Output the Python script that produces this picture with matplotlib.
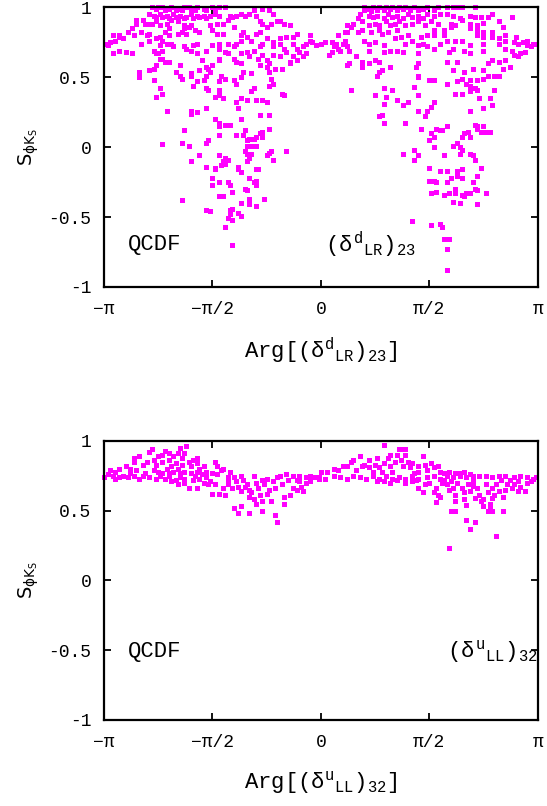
import matplotlib
matplotlib.use('Agg')
import matplotlib.pyplot as plt
import numpy as np

# upper panel, (delta^d_LR)_23 : points with Arg < 0
top_left = [
	(-0.995,0.74),(-0.97,0.75),(-0.95,0.76),(-0.93,0.79),(-0.96,0.80),(-0.93,0.80),(-0.91,0.78),(-0.98,0.73),
	(-0.96,0.67),(-0.93,0.69),(-0.90,0.68),(-0.87,0.67),(-0.89,0.82),(-0.87,0.85),(-0.86,0.80),(-0.85,0.88),
	(-0.83,0.82),(-0.81,0.88),(-0.83,0.74),(-0.80,0.80),(-0.79,0.76),(-0.84,0.54),(-0.84,0.50),(-0.79,0.55),
	(-0.77,0.56),(-0.77,0.48),(-0.74,0.42),(-0.73,0.38),(-0.76,0.36),(-0.71,0.26),(-0.73,0.02),(-0.63,0.12),
	(-0.64,0.03),(-0.61,0.01),(-0.60,0.26),(-0.60,0.24),(-0.57,0.25),(-0.53,0.28),(-0.52,0.05),(-0.53,0.03),
	(-0.75,0.67),(-0.73,0.69),(-0.72,0.61),(-0.70,0.61),(-0.73,0.63),(-0.76,0.59),(-0.67,0.54),(-0.65,0.59),
	(-0.64,0.49),(-0.65,0.51),(-0.60,0.53),(-0.60,0.51),(-0.57,0.47),(-0.59,0.44),(-0.56,0.55),(-0.53,0.57),
	(-0.53,0.51),(-0.51,0.54),(-0.54,0.48),(-0.53,0.42),(-0.52,0.41),(-0.49,0.36),(-0.47,0.37),(-0.45,0.35),
	(-0.47,0.41),(-0.47,0.47),(-0.46,0.51),(-0.44,0.49),(-0.40,0.48),(-0.39,0.45),(-0.37,0.50),(-0.36,0.54),
	(-0.32,0.53),(-0.31,0.42),(-0.32,0.40),(-0.37,0.35),(-0.39,0.32),(-0.38,0.28),(-0.34,0.34),(-0.30,0.34),
	(-0.27,0.34),(-0.25,0.32),(-0.28,0.23),(-0.24,0.23),(-0.18,0.38),(-0.17,0.37),(-0.23,0.49),(-0.22,0.45),
	(-0.24,0.44),(-0.24,0.54),(-0.25,0.57),(-0.24,0.60),(-0.27,0.66),(-0.25,0.62),(-0.22,0.66),(-0.19,0.65),
	(-0.18,0.56),(-0.21,0.56),(-0.28,0.59),(-0.29,0.63),(-0.33,0.65),(-0.37,0.60),(-0.39,0.61),(-0.40,0.63),
	(-0.47,0.62),(-0.47,0.63),(-0.50,0.59),(-0.52,0.56),(-0.55,0.62),(-0.57,0.67),(-0.60,0.69),(-0.62,0.70),
	(-0.63,0.72),(-0.59,0.73),(-0.57,0.74),(-0.53,0.69),(-0.50,0.73),(-0.47,0.70),(-0.47,0.74),(-0.43,0.74),
	(-0.45,0.81),(-0.48,0.81),(-0.50,0.84),(-0.51,0.87),(-0.48,0.88),(-0.45,0.88),(-0.43,0.91),(-0.40,0.86),
	(-0.41,0.93),(-0.39,0.94),(-0.37,0.95),(-0.35,0.94),(-0.33,0.95),(-0.31,0.98),(-0.30,0.94),(-0.27,0.99),
	(-0.24,0.98),(-0.22,0.95),(-0.28,0.90),(-0.27,0.88),(-0.25,0.86),(-0.23,0.88),(-0.20,0.90),(-0.19,0.90),
	(-0.17,0.88),(-0.14,0.87),(-0.11,0.81),(-0.13,0.79),(-0.16,0.79),(-0.19,0.78),(-0.22,0.75),(-0.25,0.78),
	(-0.27,0.74),(-0.30,0.81),(-0.28,0.82),(-0.32,0.76),(-0.34,0.79),(-0.37,0.76),(-0.37,0.80),(-0.36,0.82),
	(-0.39,0.74),(-0.40,0.72),(-0.43,0.67),(-0.44,0.68),(-0.37,0.67),(-0.34,0.68),(-0.31,0.69),(-0.28,0.72),
	(-0.22,0.72),(-0.19,0.74),(-0.17,0.70),(-0.16,0.68),(-0.13,0.74),(-0.11,0.70),(-0.08,0.72),(-0.07,0.74),
	(-0.05,0.76),(-0.04,0.75),(-0.02,0.73),(-0.05,0.80),(-0.10,0.68),(-0.13,0.65),(-0.14,0.61),(-0.11,0.62),
	(-0.08,0.65),(-0.07,0.67),(-0.14,0.60),
	(-0.49,0.20),(-0.47,0.17),(-0.47,0.15),(-0.44,0.16),(-0.42,0.16),(-0.37,0.20),(-0.35,0.12),(-0.36,0.09),
	(-0.39,0.09),(-0.34,0.05),(-0.33,0.06),(-0.31,0.06),(-0.30,0.07),(-0.28,0.10),(-0.27,0.11),(-0.27,0.07),
	(-0.24,0.13),(-0.34,0.01),(-0.32,0.01),(-0.30,0.01),(-0.47,0.09),
	(-0.78,1.00),(-0.76,0.99),(-0.75,1.00),(-0.73,1.00),(-0.72,0.98),(-0.70,0.99),(-0.69,1.00),(-0.67,0.98),
	(-0.66,0.99),(-0.64,0.98),(-0.63,1.00),(-0.61,1.00),(-0.60,0.99),(-0.58,0.98),(-0.57,1.00),(-0.54,0.99),
	(-0.53,0.98),(-0.50,1.00),(-0.49,0.99),(-0.47,1.00),(-0.44,1.00),(-0.42,0.94),(-0.79,0.95),(-0.77,0.94),
	(-0.76,0.93),(-0.74,0.95),(-0.73,0.93),(-0.71,0.94),(-0.70,0.92),(-0.68,0.95),(-0.67,0.93),(-0.65,0.94),
	(-0.63,0.92),(-0.62,0.93),(-0.60,0.95),(-0.59,0.92),(-0.57,0.94),(-0.56,0.93),(-0.54,0.94),(-0.53,0.92),
	(-0.51,0.94),(-0.49,0.95),(-0.47,0.94),(-0.82,0.91),(-0.85,0.91),(-0.80,0.88),(-0.78,0.88),(-0.76,0.90),
	(-0.74,0.87),(-0.71,0.88),(-0.69,0.91),(-0.66,0.90),(-0.63,0.87),(-0.63,0.85),(-0.61,0.86),(-0.60,0.87),
	(-0.58,0.84),(-0.56,0.82),(-0.64,0.82),(-0.66,0.81),(-0.62,0.81),(-0.70,0.85),(-0.72,0.82),(-0.74,0.79),
	(-0.76,0.78),(-0.79,0.81),(-0.70,0.80),(-0.73,0.76),(-0.74,0.73),(-0.77,0.69),(-0.68,0.72),(-0.71,0.74),
	(-0.69,0.74),(-0.76,0.67),(-0.74,0.63),
	(-0.56,-0.06),(-0.47,-0.06),(-0.60,-0.10),(-0.53,-0.14),(-0.49,-0.15),(-0.49,-0.16),(-0.46,-0.13),(-0.44,-0.08),
	(-0.43,-0.09),(-0.45,-0.10),(-0.44,-0.12),(-0.38,-0.14),(-0.38,-0.16),(-0.37,-0.18),(-0.35,-0.03),(-0.34,-0.05),
	(-0.32,-0.05),(-0.33,-0.08),(-0.34,-0.10),(-0.30,-0.16),(-0.29,-0.16),(-0.25,-0.06),(-0.24,-0.04),(-0.23,-0.03),
	(-0.22,-0.09),(-0.16,-0.03),(-0.50,-0.22),(-0.50,-0.27),(-0.47,-0.25),(-0.43,-0.25),(-0.42,-0.27),(-0.41,-0.32),
	(-0.35,-0.30),(-0.34,-0.31),(-0.33,-0.22),(-0.31,-0.25),(-0.30,-0.24),(-0.30,-0.27),(-0.33,-0.37),(-0.33,-0.41),
	(-0.30,-0.42),(-0.26,-0.37),(-0.37,-0.40),(-0.47,-0.35),(-0.46,-0.35),(-0.45,-0.35),(-0.64,-0.38),(-0.53,-0.45),
	(-0.51,-0.46),(-0.42,-0.45),(-0.41,-0.44),(-0.42,-0.48),(-0.38,-0.47),(-0.37,-0.49),(-0.43,-0.51),(-0.41,-0.52),
	(-0.44,-0.57),(-0.41,-0.70),
]

# upper panel : points with Arg > 0
top_right = [
	(0.00,0.74),(0.02,0.75),(0.05,0.75),(0.07,0.74),(0.06,0.72),(0.05,0.68),(0.04,0.66),(0.08,0.70),
	(0.09,0.69),(0.10,0.74),(0.11,0.76),(0.12,0.72),(0.13,0.69),(0.08,0.80),(0.11,0.82),(0.12,0.82),
	(0.12,0.87),(0.14,0.86),(0.15,0.88),(0.17,0.92),(0.18,0.95),(0.20,0.98),(0.20,1.00),(0.22,0.99),
	(0.23,0.97),(0.24,1.00),(0.26,0.98),(0.27,1.00),(0.29,0.98),(0.30,1.00),(0.32,0.99),(0.33,1.00),
	(0.35,0.98),(0.36,1.00),(0.38,0.99),(0.39,1.00),(0.41,0.98),(0.43,1.00),(0.45,0.98),(0.47,0.99),
	(0.49,1.00),(0.52,0.98),(0.54,1.00),(0.58,1.00),(0.61,1.00),(0.63,1.00),(0.65,1.00),(0.71,1.00),
	(0.22,0.94),(0.24,0.93),(0.26,0.94),(0.29,0.92),(0.31,0.95),(0.33,0.93),(0.35,0.94),(0.38,0.92),
	(0.40,0.95),(0.42,0.93),(0.45,0.94),(0.47,0.92),(0.49,0.95),(0.52,0.94),(0.55,0.95),(0.58,0.95),
	(0.61,0.94),(0.64,0.92),(0.69,0.94),(0.71,0.93),(0.74,0.93),(0.77,0.93),(0.79,0.95),(0.88,0.93),
	(0.19,0.90),(0.22,0.87),(0.25,0.88),(0.27,0.87),(0.30,0.90),(0.32,0.87),(0.34,0.88),(0.36,0.90),
	(0.39,0.87),(0.42,0.88),(0.45,0.90),(0.48,0.87),(0.51,0.90),(0.54,0.88),(0.60,0.88),(0.65,0.91),
	(0.69,0.88),(0.72,0.87),(0.75,0.89),(0.82,0.90),(0.84,0.86),
	(0.17,0.82),(0.19,0.84),(0.23,0.82),(0.27,0.84),(0.28,0.81),(0.31,0.82),(0.35,0.84),(0.37,0.79),
	(0.40,0.80),(0.42,0.76),(0.46,0.79),(0.49,0.80),(0.52,0.84),(0.52,0.80),(0.57,0.84),(0.57,0.80),
	(0.58,0.76),(0.60,0.86),(0.62,0.87),(0.69,0.85),(0.72,0.84),(0.75,0.82),(0.79,0.82),(0.79,0.79),
	(0.75,0.79),(0.72,0.80),(0.82,0.78),(0.85,0.80),(0.85,0.76),(0.89,0.75),(0.90,0.79),(0.91,0.74),
	(0.93,0.75),(0.95,0.76),(0.95,0.73),(0.98,0.74),(0.99,0.74),(0.97,0.72),
	(0.20,0.76),(0.22,0.74),(0.22,0.69),(0.25,0.75),(0.29,0.73),(0.29,0.68),(0.32,0.69),(0.34,0.78),
	(0.35,0.69),(0.38,0.68),(0.39,0.74),(0.45,0.73),(0.45,0.67),(0.47,0.74),(0.49,0.72),(0.52,0.70),
	(0.55,0.74),(0.59,0.68),(0.61,0.70),(0.62,0.76),(0.65,0.76),(0.66,0.69),(0.69,0.73),(0.69,0.67),
	(0.75,0.74),(0.75,0.69),(0.82,0.74),(0.85,0.70),(0.88,0.69),(0.91,0.65),(0.92,0.67),(0.94,0.68),
	(0.89,0.66),
	(0.12,0.59),(0.13,0.60),(0.16,0.65),(0.19,0.61),(0.19,0.57),(0.22,0.60),(0.25,0.62),(0.27,0.61),
	(0.28,0.55),(0.26,0.51),(0.27,0.54),(0.32,0.57),(0.45,0.60),(0.44,0.57),(0.45,0.51),(0.45,0.50),
	(0.58,0.61),(0.61,0.55),(0.63,0.61),(0.66,0.54),(0.63,0.47),(0.65,0.49),(0.67,0.45),(0.69,0.48),
	(0.70,0.56),(0.72,0.48),(0.75,0.55),(0.75,0.49),(0.77,0.51),(0.79,0.62),(0.80,0.51),(0.82,0.51),
	(0.82,0.61),(0.84,0.56),(0.85,0.62),(0.87,0.57),(0.77,0.60),(0.71,0.42),(0.72,0.41),(0.73,0.35),
	(0.75,0.28),(0.78,0.35),(0.79,0.30),(0.80,0.41),(0.69,0.40),(0.69,0.44),(0.65,0.38),(0.62,0.38),
	(0.58,0.45),(0.50,0.48),(0.52,0.48),(0.52,0.32),(0.51,0.29),(0.49,0.26),(0.48,0.22),(0.45,0.26),
	(0.43,0.43),(0.45,0.37),(0.40,0.32),(0.38,0.30),(0.35,0.34),(0.33,0.41),(0.30,0.36),(0.29,0.42),
	(0.25,0.37),(0.29,0.31),(0.27,0.22),(0.28,0.23),(0.29,0.17),(0.39,0.17),(0.14,0.41),(0.69,0.26),
	(0.53,0.13),(0.55,0.12),(0.58,0.15),(0.51,0.10),(0.52,0.07),(0.46,0.13),(0.50,0.05),(0.52,0.00),
	(0.43,-0.02),(0.61,0.01),(0.63,0.03),(0.64,0.00),(0.65,0.07),(0.66,0.10),(0.68,0.11),(0.69,0.07),
	(0.71,0.16),(0.72,0.15),(0.74,0.11),(0.75,0.15),(0.76,0.11),(0.78,0.11),(0.72,0.13),(0.56,0.12),
	(0.65,-0.02),(0.64,-0.05),(0.69,-0.05),(0.70,-0.06),(0.71,-0.09),(0.74,-0.15),(0.57,-0.06),(0.45,-0.06),
	(0.43,-0.09),(0.38,-0.05),(0.50,-0.15),(0.55,-0.17),(0.58,-0.17),(0.63,-0.17),(0.65,-0.16),(0.60,-0.22),
	(0.63,-0.21),(0.65,-0.22),(0.72,-0.21),(0.50,-0.24),(0.52,-0.24),(0.53,-0.25),(0.58,-0.25),(0.70,-0.25),
	(0.71,-0.30),(0.72,-0.31),(0.62,-0.30),(0.62,-0.33),(0.59,-0.33),(0.65,-0.34),(0.66,-0.35),(0.67,-0.33),
	(0.69,-0.33),(0.76,-0.33),(0.53,-0.32),(0.51,-0.33),(0.57,-0.34),(0.61,-0.39),(0.64,-0.40),(0.72,-0.41),
	(0.42,-0.53),(0.51,-0.56),(0.55,-0.55),(0.56,-0.57),(0.57,-0.66),(0.59,-0.66),(0.58,-0.73),(0.58,-0.88),
]

# lower panel, (delta^u_LL)_32 : points with Arg < 0
bot_left = [
	(-1.00,0.74),(-0.98,0.76),(-0.96,0.75),(-0.93,0.74),(-0.91,0.75),(-0.89,0.74),(-0.86,0.75),(-0.84,0.73),
	(-0.82,0.75),(-0.79,0.74),(-0.76,0.73),(-0.74,0.75),(-0.72,0.73),(-0.70,0.75),(-0.67,0.72),(-0.65,0.74),
	(-0.63,0.73),
	(-0.97,0.79),(-0.95,0.78),(-0.93,0.80),(-0.90,0.82),(-0.88,0.80),(-0.86,0.85),(-0.86,0.88),(-0.84,0.89),
	(-0.85,0.79),(-0.82,0.83),(-0.80,0.85),(-0.79,0.92),(-0.78,0.94),(-0.77,0.86),(-0.76,0.83),(-0.75,0.89),
	(-0.73,0.90),(-0.72,0.93),(-0.70,0.86),(-0.70,0.91),(-0.68,0.89),(-0.67,0.84),(-0.66,0.91),(-0.65,0.95),
	(-0.64,0.88),(-0.63,0.91),(-0.62,0.96),(-0.61,0.85),(-0.60,0.82),(-0.59,0.86),(-0.57,0.88),(-0.57,0.84),
	(-0.56,0.80),(-0.54,0.82),(-0.53,0.78),(-0.49,0.85),(-0.48,0.82),(-0.46,0.79),(-0.45,0.80),(-0.73,0.85),
	(-0.71,0.80),(-0.69,0.82),(-0.66,0.80),(-0.64,0.83),(-0.77,0.79),(-0.75,0.78),(-0.73,0.77),(-0.70,0.77),
	(-0.68,0.78),(-0.65,0.77),(-0.63,0.78),(-0.60,0.77),(-0.57,0.78),(-0.55,0.76),(-0.53,0.74),(-0.50,0.77),
	(-0.48,0.76),(-0.59,0.72),(-0.56,0.73),(-0.54,0.70),(-0.57,0.66),(-0.61,0.66),(-0.69,0.71),(-0.66,0.69),
	(-0.63,0.70),(-0.51,0.71),(-0.49,0.69),(-0.50,0.62),(-0.47,0.62),(-0.44,0.61),(-0.43,0.69),(-0.43,0.72),
	(-0.42,0.78),(-0.40,0.74),(-0.39,0.71),(-0.38,0.67),(-0.41,0.66),(-0.37,0.64),(-0.36,0.72),(-0.34,0.69),
	(-0.33,0.65),(-0.33,0.60),(-0.32,0.63),(-0.31,0.58),(-0.30,0.55),(-0.30,0.70),(-0.29,0.66),(-0.28,0.61),
	(-0.27,0.57),(-0.27,0.72),(-0.26,0.69),(-0.24,0.65),(-0.23,0.57),(-0.22,0.71),(-0.21,0.66),(-0.18,0.69),
	(-0.17,0.60),(-0.17,0.55),(-0.14,0.61),(-0.13,0.66),(-0.11,0.65),(-0.09,0.67),(-0.08,0.64),(-0.07,0.70),
	(-0.05,0.71),(-0.40,0.52),(-0.38,0.48),(-0.37,0.53),(-0.33,0.48),(-0.27,0.50),(-0.21,0.47),(-0.20,0.42),
	(-0.43,0.74),(-0.37,0.75),(-0.31,0.75),(-0.25,0.73),(-0.20,0.74),(-0.19,0.75),(-0.16,0.76),(-0.13,0.75),
	(-0.10,0.75),(-0.07,0.74),(-0.05,0.75),(-0.03,0.74),(-0.01,0.73),(-0.15,0.72),(-0.11,0.72),(-0.10,0.71),
	(-0.35,0.67),(-0.25,0.62),(-0.45,0.66),(-0.52,0.69),(-0.58,0.75),(-0.81,0.77),(-0.88,0.77),(-0.95,0.73),
]

# lower panel : points with Arg > 0
bot_right = [
	(-0.01,0.74),(0.02,0.73),(0.06,0.75),(0.09,0.74),(0.12,0.73),(0.15,0.75),(0.18,0.74),(0.21,0.73),
	(0.24,0.75),(0.27,0.73),(0.30,0.75),(0.33,0.73),(0.36,0.74),(0.39,0.73),(0.42,0.75),(0.45,0.73),
	(0.49,0.74),(0.52,0.75),(0.55,0.73),(0.58,0.75),(0.61,0.74),(0.64,0.75),(0.67,0.74),(0.70,0.75),
	(0.73,0.75),(0.76,0.75),(0.79,0.74),(0.82,0.75),(0.85,0.75),(0.89,0.74),(0.92,0.75),(0.95,0.74),
	(0.98,0.73),(0.99,0.74),(0.00,0.78),
	(0.03,0.78),(0.06,0.80),(0.08,0.79),(0.10,0.82),(0.12,0.82),(0.14,0.85),(0.15,0.86),(0.16,0.79),
	(0.18,0.89),(0.19,0.82),(0.20,0.83),(0.22,0.81),(0.22,0.86),(0.24,0.78),(0.25,0.83),(0.26,0.88),
	(0.27,0.81),(0.28,0.78),(0.29,0.97),(0.29,0.84),(0.31,0.88),(0.32,0.82),(0.32,0.90),(0.33,0.78),
	(0.34,0.85),(0.35,0.90),(0.36,0.94),(0.37,0.86),(0.38,0.82),(0.39,0.94),(0.39,0.90),(0.40,0.85),
	(0.41,0.81),(0.42,0.84),(0.43,0.77),(0.45,0.82),(0.45,0.78),(0.47,0.89),(0.48,0.83),(0.49,0.79),
	(0.51,0.84),(0.52,0.81),(0.54,0.82),(0.55,0.78),(0.57,0.77),(0.59,0.78),(0.62,0.77),(0.64,0.77),
	(0.66,0.78),(0.69,0.76),(0.37,0.94),
	(0.26,0.71),(0.29,0.71),(0.32,0.70),(0.35,0.72),(0.39,0.70),(0.42,0.71),(0.45,0.66),(0.47,0.63),
	(0.48,0.69),(0.50,0.70),(0.52,0.63),(0.53,0.66),(0.54,0.61),(0.55,0.60),(0.53,0.56),(0.56,0.70),
	(0.58,0.69),(0.59,0.65),(0.60,0.71),(0.61,0.66),(0.62,0.57),(0.62,0.61),(0.63,0.70),(0.65,0.66),
	(0.66,0.63),(0.66,0.58),(0.67,0.54),(0.68,0.69),(0.69,0.64),(0.70,0.71),(0.71,0.59),(0.72,0.66),
	(0.73,0.61),(0.74,0.57),(0.75,0.53),(0.75,0.58),(0.76,0.69),(0.77,0.63),(0.78,0.55),(0.78,0.52),
	(0.79,0.59),(0.79,0.66),(0.80,0.61),(0.81,0.69),(0.82,0.64),(0.84,0.60),(0.85,0.65),(0.86,0.69),
	(0.88,0.66),(0.89,0.69),(0.91,0.64),(0.92,0.67),(0.94,0.64),(0.95,0.70),(0.97,0.71),(0.77,0.50),
	(0.79,0.50),(0.84,0.50),(0.60,0.50),(0.62,0.50),(0.67,0.43),(0.71,0.42),(0.69,0.37),(0.81,0.32),
	(0.59,0.23),(0.44,0.72),(0.57,0.72),(0.70,0.68),(0.83,0.72),(0.91,0.71),(0.87,0.72),
]

xtick_pos = [-1, -0.5, 0, 0.5, 1]
xtick_lab = ['\u2212\u03c0', '\u2212\u03c0/2', '0', '\u03c0/2', '\u03c0']
ytick_pos = [-1, -0.5, 0, 0.5, 1]
ytick_lab = ['-1', '-0.5', '0', '0.5', '1']

panels = [
	(top_left + top_right, r'$(\delta^{\rm d}{}_{\rm LR})_{\rm 23}$', r'$\rm Arg[(\delta^{d}{}_{LR})_{23}]$', 0.02, -0.70, -0.70),
	(bot_left + bot_right, r'$(\delta^{\rm u}{}_{\rm LL})_{\rm 32}$', r'$\rm Arg[(\delta^{u}{}_{LL})_{32}]$', 0.58, -0.51, -0.51),
]

plt.rcParams['font.family'] = ['Liberation Mono', 'DejaVu Sans Mono']
plt.rcParams['mathtext.fontset'] = 'custom'
plt.rcParams['mathtext.rm'] = 'Liberation Mono'
plt.rcParams['mathtext.it'] = 'Liberation Mono'

fig = plt.figure(figsize=(5.47, 8.06), dpi=100)
axes_rect = [[0.190, 0.644, 0.793, 0.347], [0.190, 0.107, 0.793, 0.346]]

for rect, (pts, tag, xlab, tag_x, tag_y, q_y) in zip(axes_rect, panels):
	ax = fig.add_axes(rect)
	xs = [p[0] for p in pts]
	ys = [p[1] for p in pts]
	ax.plot(xs, ys, 's', color='#ff00ff', ms=3.6, mew=0, clip_on=False)

	ax.set_xlim(-1, 1)
	ax.set_ylim(-1, 1)
	ax.set_xticks(xtick_pos)
	ax.set_xticklabels(xtick_lab)
	ax.set_yticks(ytick_pos)
	ax.set_yticklabels(ytick_lab)
	ax.tick_params(direction='in', top=True, right=True, length=5, width=1.3, labelsize=13)
	ax.tick_params(axis='x', pad=10)
	ax.tick_params(axis='y', pad=9)
	for s in ax.spines.values():
		s.set_linewidth(1.6)

	ax.text(-0.89, q_y, 'QCDF', fontsize=16, va='center', ha='left')
	ax.text(tag_x, tag_y, tag, fontsize=16, va='center', ha='left', clip_on=False)

	ax.set_xlabel(xlab, fontsize=16)
	ax.xaxis.set_label_coords(0.5, -0.175)
	ax.set_ylabel(r'$\mathregular{S_{\phi K_S}}$', fontsize=14, family='DejaVu Sans')
	ax.yaxis.set_label_coords(-0.145, 0.5)

plt.savefig('out.png', dpi=100)
